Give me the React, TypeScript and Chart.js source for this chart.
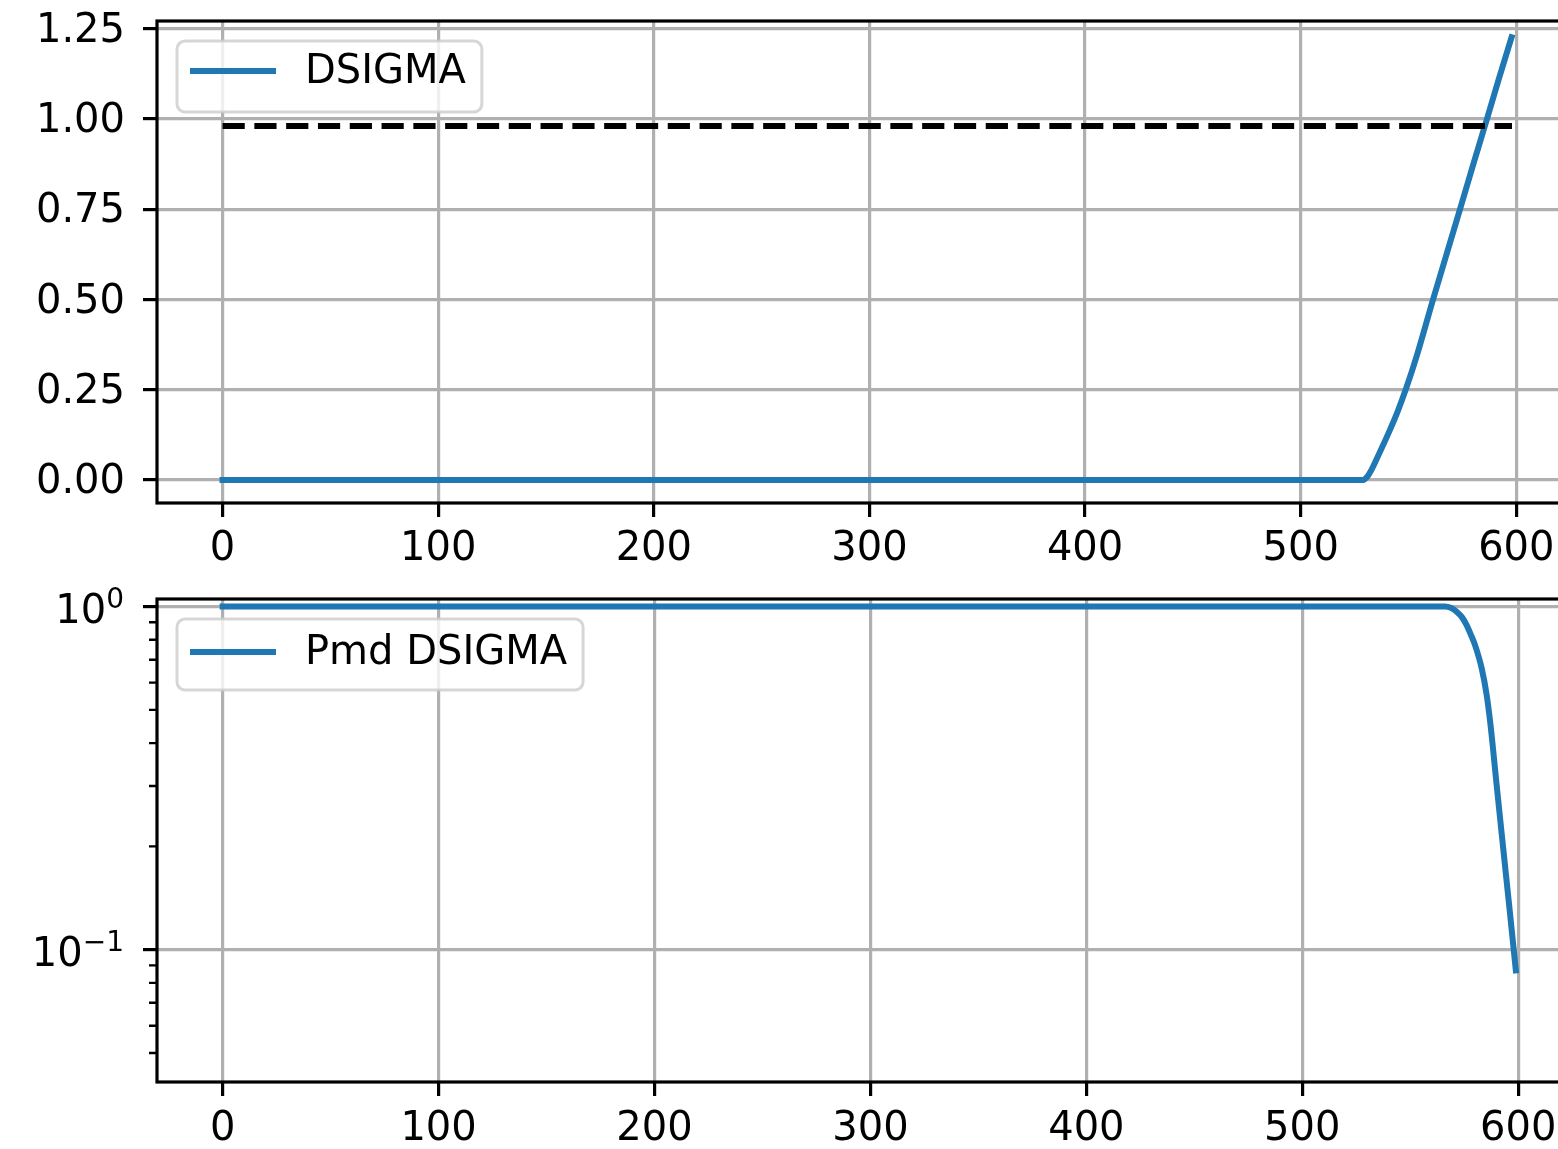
import React, { useEffect, useRef } from 'react';
import { Chart, registerables } from 'chart.js';

Chart.register(...registerables);

// ---------------- data ----------------
const X_TICKS = [0, 100, 200, 300, 400, 500, 600];

const SERIES_TOP_LABEL = 'DSIGMA';
const DSIGMA_X = [0, 529, 531, 533, 535.4, 538.5, 541.5, 545, 549, 553.9, 561.4, 569.4, 574, 580, 586.4, 592, 597.8];
const DSIGMA_Y = [0, 0, 0.01, 0.03, 0.06, 0.1, 0.14, 0.19, 0.255, 0.345, 0.5, 0.66, 0.752, 0.873, 1.0, 1.113, 1.226];

const THRESHOLD_X = [0, 598];
const THRESHOLD_Y = [0.98, 0.98];

const TOP_Y_TICKS = [0, 0.25, 0.5, 0.75, 1.0, 1.25];

const SERIES_BOTTOM_LABEL = 'Pmd DSIGMA';
const PMD_X = [0, 566, 569, 571.5, 574, 576.1, 578, 580, 583.1, 585.4, 587.2, 590.1, 593.1, 596, 598.9];
const PMD_Y = [1, 1, 0.99, 0.966, 0.93, 0.883, 0.83, 0.772, 0.66, 0.552, 0.45, 0.298, 0.196, 0.131, 0.087];

const LOG_Y_TICKS = [0.1, 1];
const LOG_Y_TICK_BASES = ['10', '10'];
const LOG_Y_TICK_EXPONENTS = ['\u22121', '0'];
const LOG_MINOR_TICKS = [0.05, 0.06, 0.07, 0.08, 0.09, 0.2, 0.3, 0.4, 0.5, 0.6, 0.7, 0.8, 0.9];

// ---------------- styling ----------------
const FONT_FAMILY = '"DejaVu Sans", sans-serif';
const FONT_SIZE = 40;
const SUP_SIZE = 28;
const BLUE = '#1f77b4';
const GRID = '#b0b0b0';
const CANVAS_W = 1600;

const decorPlugin = {
  id: 'decor',
  afterDraw(chart: any, _args: any, opts: any) {
    const { ctx, chartArea: a } = chart;
    ctx.save();
    const ys = chart.scales.y;
    if (opts.minorTicks) {
      ctx.strokeStyle = '#000';
      ctx.lineWidth = 2.4;
      ctx.beginPath();
      for (const v of opts.minorTicks) {
        const p = ys.getPixelForValue(v);
        if (p < a.top || p > a.bottom) continue;
        ctx.moveTo(a.left - 8, p);
        ctx.lineTo(a.left, p);
      }
      ctx.stroke();
    }
    // math-style log tick labels: base with superscript exponent
    if (opts.logLabels) {
      ctx.fillStyle = '#000';
      ctx.textBaseline = 'alphabetic';
      ctx.textAlign = 'right';
      const rightX = a.left - 14 - 19;
      LOG_Y_TICKS.forEach((v, i) => {
        const p = ys.getPixelForValue(v);
        const base = p + 16.3;
        ctx.font = `${SUP_SIZE}px ${FONT_FAMILY}`;
        const supW = ctx.measureText(LOG_Y_TICK_EXPONENTS[i]).width;
        ctx.fillText(LOG_Y_TICK_EXPONENTS[i], rightX, base - 15);
        ctx.font = `${FONT_SIZE}px ${FONT_FAMILY}`;
        ctx.fillText(LOG_Y_TICK_BASES[i], rightX - supW, base);
      });
    }
    // frame (spines)
    ctx.strokeStyle = '#000';
    ctx.lineWidth = 3.2;
    ctx.strokeRect(a.left, a.top, a.right - a.left, a.bottom - a.top);

    // legend (upper left, inside axes)
    const ds = chart.data.datasets[0];
    ctx.font = `${FONT_SIZE}px ${FONT_FAMILY}`;
    const tw = ctx.measureText(ds.label).width;
    const bx = a.left + 20;
    const by = a.top + 20;
    const bw = 16 + 80 + 32 + tw + 16;
    const bh = 71;
    ctx.beginPath();
    ctx.roundRect(bx, by, bw, bh, 8);
    ctx.fillStyle = 'rgba(255,255,255,0.8)';
    ctx.fill();
    ctx.strokeStyle = 'rgba(204,204,204,0.8)';
    ctx.lineWidth = 3;
    ctx.stroke();
    const cy = by + (opts.legendDy || 31);
    ctx.beginPath();
    ctx.moveTo(bx + 16, cy);
    ctx.lineTo(bx + 96, cy);
    ctx.strokeStyle = ds.borderColor;
    ctx.lineWidth = 6;
    ctx.lineCap = 'square';
    ctx.stroke();
    ctx.fillStyle = '#000';
    ctx.textBaseline = 'middle';
    ctx.textAlign = 'left';
    ctx.fillText(ds.label, bx + 128, cy + 2);
    ctx.restore();
  },
};

const zeroPad = (s: any) => {
  s.paddingLeft = 0;
  s.paddingRight = 0;
  s.paddingTop = 0;
  s.paddingBottom = 0;
};

const tickFont = { family: FONT_FAMILY, size: FONT_SIZE };

const gridOpts = {
  color: GRID,
  lineWidth: 3.2,
  tickColor: '#000',
  tickWidth: 3.2,
  tickLength: 14,
  drawOnChartArea: true,
  drawTicks: true,
};

function xScale(axisHeight: number, padding: number) {
  return {
    type: 'linear',
    min: -30.4,
    max: 630,
    afterBuildTicks: (s: any) => {
      s.ticks = X_TICKS.map((v) => ({ value: v }));
    },
    afterFit: (s: any) => {
      s.height = axisHeight;
      zeroPad(s);
    },
    ticks: {
      font: tickFont,
      color: '#000',
      padding,
      maxRotation: 0,
      autoSkip: false,
      callback: (v: any) => String(v),
    },
    grid: gridOpts,
    border: { display: false },
  };
}

function TopChart() {
  const ref = useRef<HTMLCanvasElement>(null);
  useEffect(() => {
    const chart = new Chart(ref.current as HTMLCanvasElement, {
      type: 'line',
      data: {
        datasets: [
          {
            label: SERIES_TOP_LABEL,
            data: DSIGMA_X.map((x, i) => ({ x, y: DSIGMA_Y[i] })),
            borderColor: BLUE,
            borderWidth: 6,
            pointRadius: 0,
            cubicInterpolationMode: 'monotone',
            borderCapStyle: 'square',
            borderJoinStyle: 'round',
            order: 2,
          },
          {
            label: 'threshold',
            data: THRESHOLD_X.map((x, i) => ({ x, y: THRESHOLD_Y[i] })),
            borderColor: '#000',
            borderWidth: 6,
            borderDash: [22.2, 9.6],
            pointRadius: 0,
            order: 1,
          },
        ],
      },
      options: {
        responsive: false,
        animation: false,
        layout: { padding: { top: 21, right: 19, left: 0, bottom: 0 } },
        plugins: {
          legend: { display: false },
          tooltip: { enabled: false },
          decor: { legendDy: 30 },
        },
        scales: {
          x: xScale(72, 9),
          y: {
            type: 'linear',
            min: -0.064,
            max: 1.271,
            afterBuildTicks: (s: any) => {
              s.ticks = TOP_Y_TICKS.map((v) => ({ value: v }));
            },
            afterFit: (s: any) => {
              s.width = 157;
              zeroPad(s);
            },
            ticks: {
              font: tickFont,
              color: '#000',
              padding: 18,
              labelOffset: 3,
              callback: (v: any) => Number(v).toFixed(2),
            },
            grid: gridOpts,
            border: { display: false },
          },
        },
      } as any,
      plugins: [decorPlugin],
    } as any);
    return () => chart.destroy();
  }, []);
  return (
    <canvas
      ref={ref}
      width={CANVAS_W}
      height={575}
      style={{ position: 'absolute', left: 0, top: 0, width: CANVAS_W, height: 575 }}
    />
  );
}

function BottomChart() {
  const ref = useRef<HTMLCanvasElement>(null);
  useEffect(() => {
    const chart = new Chart(ref.current as HTMLCanvasElement, {
      type: 'line',
      data: {
        datasets: [
          {
            label: SERIES_BOTTOM_LABEL,
            data: PMD_X.map((x, i) => ({ x, y: PMD_Y[i] })),
            borderColor: BLUE,
            borderWidth: 6,
            pointRadius: 0,
            cubicInterpolationMode: 'monotone',
            borderCapStyle: 'square',
            borderJoinStyle: 'round',
          },
        ],
      },
      options: {
        responsive: false,
        animation: false,
        layout: { padding: { top: 24, right: 17, left: 0, bottom: 0 } },
        plugins: {
          legend: { display: false },
          tooltip: { enabled: false },
          decor: { minorTicks: LOG_MINOR_TICKS, logLabels: true, legendDy: 33 },
        },
        scales: {
          x: xScale(67, 10),
          y: {
            type: 'logarithmic',
            min: 0.04114,
            max: 1.052,
            afterBuildTicks: (s: any) => {
              s.ticks = LOG_Y_TICKS.map((v) => ({ value: v }));
            },
            afterFit: (s: any) => {
              s.width = 157;
              zeroPad(s);
            },
            ticks: {
              display: false,
              font: tickFont,
              autoSkip: false,
            },
            grid: gridOpts,
            border: { display: false },
          },
        },
      } as any,
      plugins: [decorPlugin],
    } as any);
    return () => chart.destroy();
  }, []);
  return (
    <canvas
      ref={ref}
      width={CANVAS_W}
      height={574}
      style={{ position: 'absolute', left: 0, top: 575, width: CANVAS_W, height: 574 }}
    />
  );
}

export default function App() {
  return (
    <div
      style={{
        position: 'fixed',
        left: 0,
        top: 0,
        width: 1558,
        height: 1149,
        overflow: 'hidden',
        background: '#fff',
      }}
    >
      <TopChart />
      <BottomChart />
    </div>
  );
}
